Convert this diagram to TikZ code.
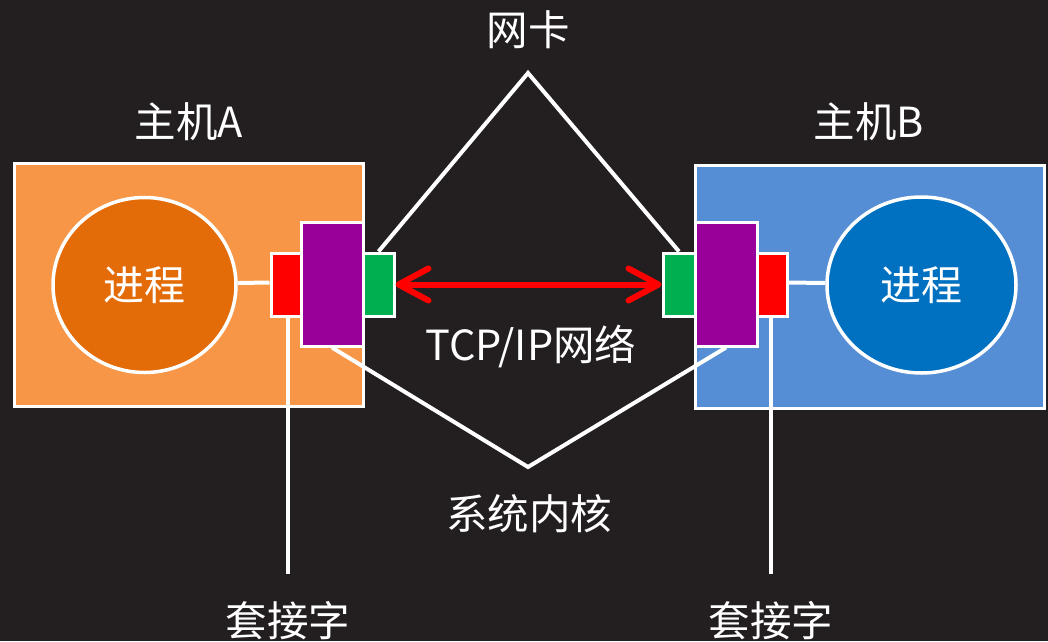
\documentclass[tikz,border=0pt]{standalone}
\usepackage{fontspec}
\setmainfont{Noto Sans CJK SC}
\usetikzlibrary{arrows.meta}
\usetikzlibrary{shapes.geometric}
\definecolor{bg}{HTML}{231F20}
\definecolor{boxorange}{HTML}{F79646}
\definecolor{ellorange}{HTML}{E36C09}
\definecolor{boxblue}{HTML}{558ED5}
\definecolor{ellblue}{HTML}{0070C0}
\definecolor{sockred}{HTML}{FF0000}
\definecolor{kernpurple}{HTML}{990099}
\definecolor{nicgreen}{HTML}{00B050}
\tikzset{
  host/.style={draw=white, line width=3pt, minimum width=349pt, minimum height=243pt, inner sep=0pt},
  proc/.style={draw=white, line width=3.5pt, ellipse, inner sep=0pt, text=white, font=\fontsize{41}{48}\selectfont},
  small/.style={draw=white, line width=3pt, minimum width=31pt, minimum height=63pt, inner sep=0pt},
  kern/.style={draw=white, line width=3pt, fill=kernpurple, minimum width=62pt, minimum height=124pt, inner sep=0pt},
  lbl/.style={text=white, font=\fontsize{41.5}{48}\selectfont, inner sep=0pt},
  wline/.style={draw=white, line width=4pt},
  netarrow/.style={draw=sockred, line width=6pt, line cap=round, {Straight Barb[length=30pt,width=32pt,round]}-{Straight Barb[length=30pt,width=32pt,round]}}
}
\begin{document}
\begin{tikzpicture}[x=1pt,y=-1pt]
\useasboundingbox (0,0) rectangle (1048,641);
\fill[bg] (0,0) rectangle (1048,641);

% hosts
\node[host, fill=boxorange] (boxA) at (188.5,284.5) {};
\node[host, fill=boxblue] (boxB) at (869.5,286.5) {};

% processes
\node[proc, fill=ellorange, minimum width=183pt, minimum height=175pt] (ellA) at (144.5,285) {进程};
\node[proc, fill=ellblue, minimum width=189pt, minimum height=176pt] (ellB) at (921.5,285) {进程};

% sockets, kernels, NICs
\node[small, fill=sockred] (redA) at (286.5,284.5) {};
\node[small, fill=nicgreen] (grnA) at (378.5,284.5) {};
\node[kern] (purA) at (332,284) {};
\node[small, fill=nicgreen, minimum width=32pt] (grnB) at (679,284.5) {};
\node[small, fill=sockred, minimum width=30pt] (redB) at (772,284.5) {};
\node[kern] (purB) at (726,284) {};

% connectors process -> socket
\draw[wline] ([yshift=2pt]ellA.east) -- ([yshift=2pt]redA.west);
\draw[wline] ([yshift=2pt]ellB.west) -- ([yshift=2pt]redB.east);

% labels
\node[lbl] (lblNic) at (528,30) {网卡};
\node[lbl] (lblA) at (189,122) {主机A};
\node[lbl] (lblB) at (869,122) {主机B};
\node[lbl] (lblNet) at (531,347) {TCP/IP网络};
\node[lbl] (lblKern) at (529,514) {系统内核};
\node[lbl] (lblSockA) at (288,621) {套接字};
\node[lbl] (lblSockB) at (771,621) {套接字};

% apex coordinates
\coordinate (nicApex) at (528,73);
\coordinate (kernApex) at (528,467);
\coordinate (sockEndA) at (288,574);
\coordinate (sockEndB) at (771,574);

% NIC pointer lines
\draw[wline, line join=miter] (grnA.north) -- (nicApex) -- (grnB.north);
% kernel pointer lines
\draw[wline, line join=miter] (purA.south) -- (kernApex) -- (purB.south);
% socket pointer lines
\draw[wline] ([xshift=1.5pt]redA.south) -- (sockEndA);
\draw[wline] ([xshift=-1pt]redB.south) -- (sockEndB);

% network arrow
\draw[netarrow] (grnA.east) -- (grnB.west);
\end{tikzpicture}
\end{document}
